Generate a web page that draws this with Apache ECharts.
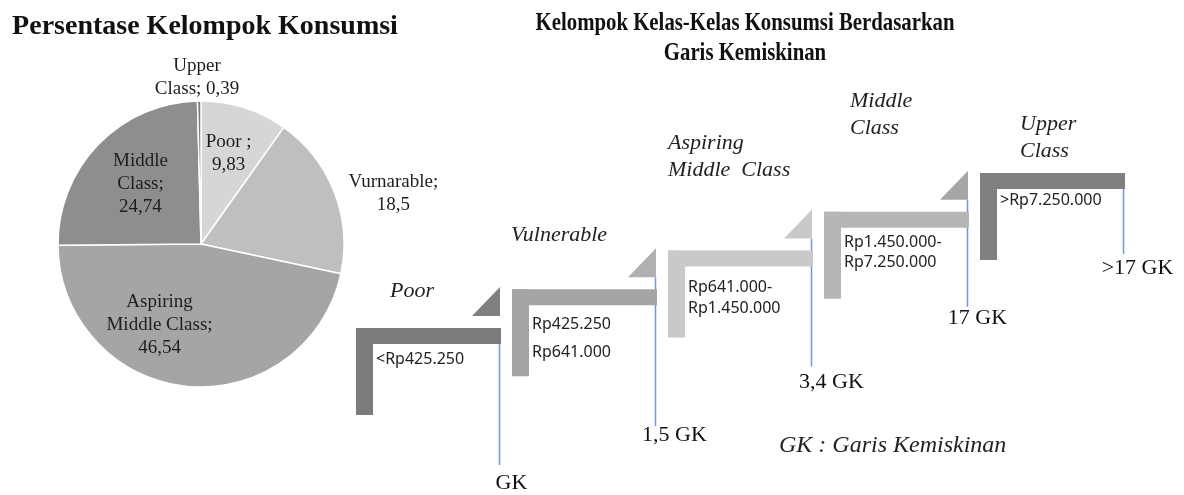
<!DOCTYPE html>
<html>
<head>
<meta charset="utf-8">
<script src="https://cdn.jsdelivr.net/npm/echarts@6/dist/echarts.min.js"></script>
<style>
html, body { margin: 0; padding: 0; background: #fff; }
#main { width: 1184px; height: 495px; }
</style>
</head>
<body>
<div id="main"></div>
<script>
// pie: persentase kelompok konsumsi
var pieNames = ['Poor', 'Vurnarable', 'Aspiring Middle Class', 'Middle Class', 'Upper Class'];
var pieValues = [9.83, 18.5, 46.54, 24.74, 0.39];
var pieColors = ['#d6d6d6', '#bfbfbf', '#a5a5a5', '#8e8e8e', '#7a7a7a'];

// tangga kelas konsumsi
var classNames = ['Poor', 'Vulnerable', 'Aspiring\nMiddle  Class', 'Middle\nClass', 'Upper\nClass'];
var incomeRanges = ['<Rp425.250', 'Rp425.250\nRp641.000', 'Rp641.000-\nRp1.450.000', 'Rp1.450.000-\nRp7.250.000', '>Rp7.250.000'];
var gkLabels = ['GK', '1,5 GK', '3,4 GK', '17 GK', '>17 GK'];
var stepLevels = [0, 1, 2, 3, 4];

var barColors = ['#7b7b7b', '#a5a5a5', '#c9c9c9', '#b6b6b6', '#808080'];
var triColors = ['#7f7f7f', '#b0b0b0', '#c9c9c9', '#a6a6a6'];

var serif = '"Liberation Serif", "Times New Roman", serif';
var sans = '"Noto Sans", "Open Sans", sans-serif';

// geser label pie dari posisi inside
var pieLabelShift = [[5, -20], [123, -23], [-34, 7], [-7, -8], [-3, -92]];

// posisi teks per anak tangga (relatif ke sudut kiri atas tangga)
var nameOffset = [[34, -37], [-1, -55], [0, -108], [26, -111], [40, -49]];
var rangeTop = [21, 21, 26, 21, 17];
var rangeLineH = [21, 28, 21, 20, 21];
var lineStart = [16, -12, -12, -12, 16];
var lineDrop = [137, 137, 116, 95, 81];
var gkShift = [[12, 18], [19, 9], [20, 16], [10, 11], [14, 14]];

function fmtNum(v){
	return String(v).replace('.', ',');
}

function pieLabel(p){
	var v = fmtNum(p.value);
	switch(p.dataIndex){
		case 0: return 'Poor ;\n' + v;
		case 1: return 'Vurnarable;\n' + v;
		case 2: return 'Aspiring\nMiddle Class;\n' + v;
		case 3: return 'Middle\nClass;\n' + v;
		default: return 'Upper\nClass; ' + v;
	}
}

function renderStep(params, api){
	var i = api.value(0);
	var p = api.coord([i, api.value(1)]);
	var x = p[0], y = p[1];
	var kids = [];
	// garis GK
	var lx = x + 143.5;
	var ly2 = y + lineDrop[i];
	kids.push({
		type: 'line',
		shape: {x1: lx, y1: y + lineStart[i], x2: lx, y2: ly2},
		style: {stroke: '#7196e2', lineWidth: 1.5}
	});
	if(i < triColors.length){
		kids.push({
			type: 'polygon',
			shape: {points: [[x + 144, y - 41], [x + 144, y - 12], [x + 116, y - 12]]},
			style: {fill: triColors[i]}
		});
	}
	kids.push({type: 'rect', shape: {x: x, y: y, width: 145, height: 16}, style: {fill: barColors[i]}});
	kids.push({type: 'rect', shape: {x: x, y: y, width: 17, height: 87}, style: {fill: barColors[i]}});
	kids.push({
		type: 'text',
		style: {
			x: x + 20, y: y + rangeTop[i],
			text: incomeRanges[i],
			font: '16px ' + sans,
			fill: '#222',
			lineHeight: rangeLineH[i],
			align: 'left', verticalAlign: 'top'
		}
	});
	kids.push({
		type: 'text',
		style: {
			x: x + nameOffset[i][0], y: y + nameOffset[i][1] - 13,
			text: classNames[i],
			font: 'italic 22px ' + serif,
			fill: '#222',
			lineHeight: 27,
			align: 'left', verticalAlign: 'top'
		}
	});
	kids.push({
		type: 'text',
		style: {
			x: lx + gkShift[i][0], y: ly2 + gkShift[i][1],
			text: gkLabels[i],
			font: '22px ' + serif,
			fill: '#111',
			align: 'center', verticalAlign: 'middle'
		}
	});
	return {type: 'group', children: kids};
}

var pieData = [];
for(var k = 0; k < pieNames.length; k++){
	pieData.push({name: pieNames[k], value: pieValues[k], itemStyle: {color: pieColors[k]}});
}
var stepData = [];
for(var s = 0; s < stepLevels.length; s++){
	stepData.push([s, stepLevels[s]]);
}

var option = {
	backgroundColor: '#fff',
	animation: false,
	title: {
		text: 'Persentase Kelompok Konsumsi',
		left: 200, top: 8,
		textAlign: 'center',
		textStyle: {fontFamily: serif, fontSize: 28, fontWeight: 'bold', color: '#111'}
	},
	graphic: [
		{
			type: 'text', x: 745, y: 8, scaleX: 0.8,
			style: {
				text: 'Kelompok Kelas-Kelas Konsumsi Berdasarkan\nGaris Kemiskinan',
				font: 'bold 26px ' + serif, fill: '#111',
				lineHeight: 30, align: 'center', verticalAlign: 'top'
			}
		},
		{
			type: 'text', x: 779, y: 434,
			style: {
				text: 'GK : Garis Kemiskinan',
				font: 'italic 24px ' + serif, fill: '#222',
				align: 'left', verticalAlign: 'top'
			}
		}
	],
	grid: {left: 356, top: 173, width: 624, height: 155},
	xAxis: {type: 'value', min: 0, max: 4, show: false},
	yAxis: {type: 'value', min: 0, max: 4, show: false},
	series: [
		{
			type: 'pie',
			center: [201, 244],
			radius: 143,
			startAngle: 90,
			clockwise: true,
			data: pieData,
			itemStyle: {borderColor: '#fff', borderWidth: 1.5},
			label: {
				show: true,
				position: 'inside',
				formatter: pieLabel,
				fontFamily: serif,
				fontSize: 19,
				lineHeight: 23,
				color: '#1e1e1e'
			},
			labelLine: {show: false},
			labelLayout: function(p){
				var d = pieLabelShift[p.dataIndex];
				return {dx: d[0], dy: d[1]};
			},
			emphasis: {disabled: true}
		},
		{
			type: 'custom',
			coordinateSystem: 'cartesian2d',
			renderItem: renderStep,
			data: stepData,
			clip: false,
			silent: true
		}
	]
};

var myChart = echarts.init(document.getElementById('main'));
myChart.setOption(option, true);
</script>
</body>
</html>
